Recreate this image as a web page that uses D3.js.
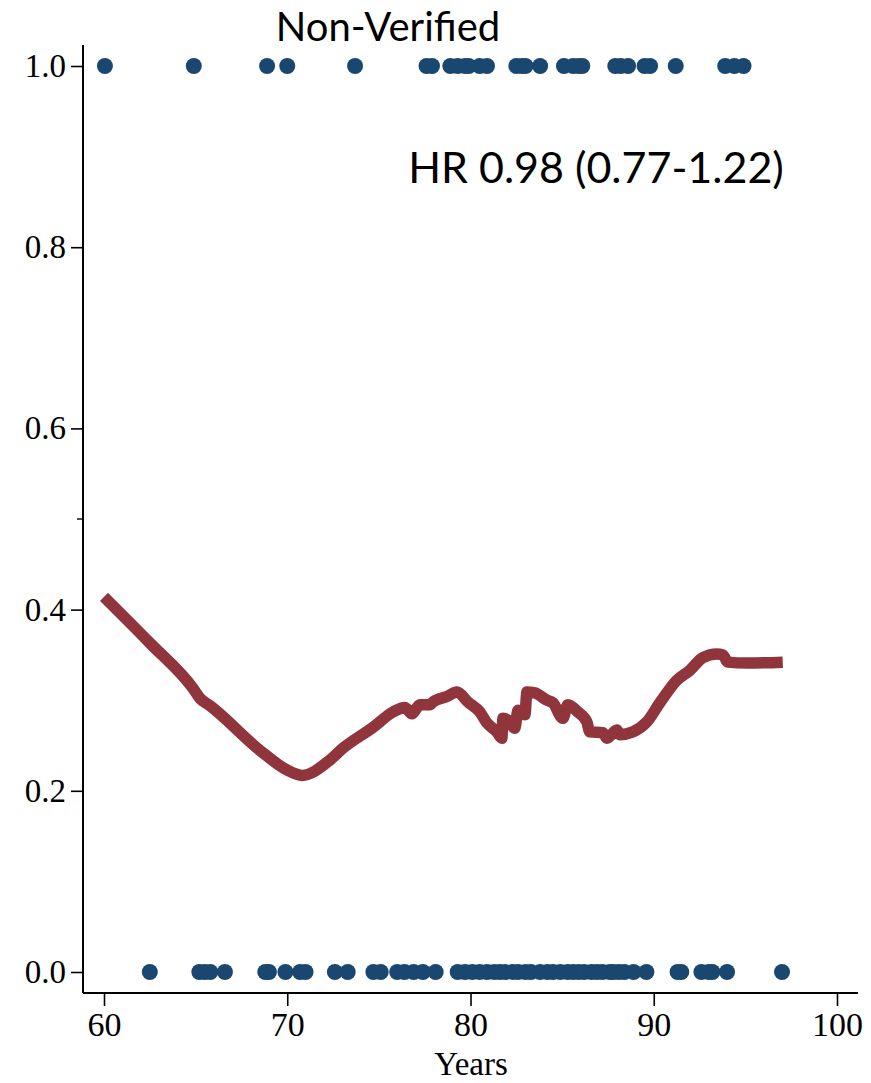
<!DOCTYPE html>
<html><head><meta charset="utf-8">
<script src="https://cdn.jsdelivr.net/npm/d3@7"></script>
<style>html,body{margin:0;padding:0;background:#fff;}</style>
</head><body>
<svg id="c" width="871" height="1083"></svg>
<script>
// Data
const eventYears = [60.05,64.9,68.9,70.0,73.7,77.6,77.9,78.9,79.3,79.7,79.9,80.5,80.9,82.5,82.8,83.0,83.8,85.1,85.6,85.9,86.1,87.9,88.2,88.6,89.5,89.8,91.2,93.9,94.4,94.9];
const censorYears = [62.5,65.2,65.5,65.8,66.6,68.8,69.0,69.9,70.7,71.0,72.6,73.3,74.7,75.1,76.0,76.4,76.9,77.4,78.1,79.3,79.7,80.1,80.5,80.9,81.3,81.6,81.9,82.3,82.6,83.0,83.3,83.8,84.2,84.5,84.9,85.3,85.6,85.9,86.2,86.6,86.9,87.2,87.6,87.8,88.1,88.4,88.9,89.6,91.3,91.5,92.6,93.0,93.2,94.0,97.0];
const smoothX = [60.0,62.51,64.86,65.24,65.78,68.67,69.98,70.80,72.33,73.04,74.68,75.77,76.42,76.80,77.24,77.79,77.95,78.71,79.26,79.86,80.51,80.89,81.44,81.71,81.77,82.04,82.42,82.59,82.97,83.08,83.51,84.17,84.50,85.04,85.31,85.86,86.35,86.51,87.22,87.44,87.99,88.15,88.86,89.62,90.33,91.26,91.97,92.68,93.44,93.77,94.04,95.08,97.04];
const smoothY = [0.414,0.363,0.313,0.302,0.294,0.242,0.223,0.217,0.234,0.247,0.270,0.287,0.292,0.285,0.295,0.295,0.298,0.304,0.309,0.298,0.287,0.275,0.265,0.258,0.280,0.278,0.269,0.289,0.284,0.309,0.308,0.300,0.297,0.280,0.295,0.287,0.276,0.265,0.264,0.258,0.267,0.262,0.265,0.276,0.297,0.322,0.333,0.347,0.351,0.350,0.342,0.341,0.342];
const xTicks = [60,70,80,90,100];
const yTicks = [0,0.2,0.4,0.6,0.8,1.0];
const yMinorTicks = [0.5];
const titleText = "Non-Verified";
const hrText = "HR 0.98 (0.77-1.22)";
const xLabel = "Years";

const svg = d3.select("#c");
const x = d3.scaleLinear().domain([60,100]).range([104,837]);
const y = d3.scaleLinear().domain([0,1]).range([972,66]);
const serif = "'Liberation Serif', 'DejaVu Serif', serif";
const sans = "Lato, 'Open Sans', sans-serif";

// axes
const xAxis = svg.append("g").attr("transform","translate(0,993)")
  .call(d3.axisBottom(x).tickValues(xTicks).tickSize(13).tickPadding(6).tickFormat(d3.format("d")));
xAxis.select(".domain").attr("d","M83,0H858").attr("stroke","#000").attr("stroke-width",2);
xAxis.selectAll(".tick line").attr("stroke","#000").attr("stroke-width",1.6);
xAxis.selectAll(".tick text").attr("font-family",serif).attr("font-size",34).attr("fill","#000");

const yAxis = svg.append("g").attr("transform","translate(83,0)")
  .call(d3.axisLeft(y).tickValues(yTicks).tickSize(12).tickPadding(5).tickFormat(d3.format(".1f")));
yAxis.select(".domain").attr("d","M0,45V993").attr("stroke","#000").attr("stroke-width",2);
yAxis.selectAll(".tick line").attr("stroke","#000").attr("stroke-width",1.6);
yAxis.selectAll(".tick text").attr("font-family",serif).attr("font-size",33).attr("fill","#000");
yAxis.selectAll(".minor").data(yMinorTicks).enter().append("line")
  .attr("x1",-6).attr("x2",0).attr("y1",d=>y(d)).attr("y2",d=>y(d))
  .attr("stroke","#000").attr("stroke-width",1.4);

// dots
const navy = "#1a476f";
svg.append("g").selectAll("circle.e").data(eventYears).enter().append("circle")
  .attr("cx",d=>x(d)).attr("cy",y(1)).attr("r",8).attr("fill",navy);
svg.append("g").selectAll("circle.c").data(censorYears).enter().append("circle")
  .attr("cx",d=>x(d)).attr("cy",y(0)).attr("r",8).attr("fill",navy);

// smooth line
const pts = smoothX.map((d,i)=>[d,smoothY[i]]);
svg.append("path").datum(pts)
  .attr("d",d3.line().x(d=>x(d[0])).y(d=>y(d[1])).curve(d3.curveMonotoneX))
  .attr("fill","none").attr("stroke","#90353b").attr("stroke-width",11.5)
  .attr("stroke-linejoin","round");

// texts
svg.append("text").attr("x",388).attr("y",41).attr("text-anchor","middle")
  .attr("font-family",sans).attr("font-size",40).attr("fill","#000").text(titleText);
svg.append("text").attr("x",596).attr("y",183).attr("text-anchor","middle")
  .attr("font-family",sans).attr("font-size",43).attr("fill","#000").text(hrText);
svg.append("text").attr("x",471).attr("y",1075).attr("text-anchor","middle")
  .attr("font-family",serif).attr("font-size",33).attr("fill","#000").text(xLabel);
</script>
</body></html>
